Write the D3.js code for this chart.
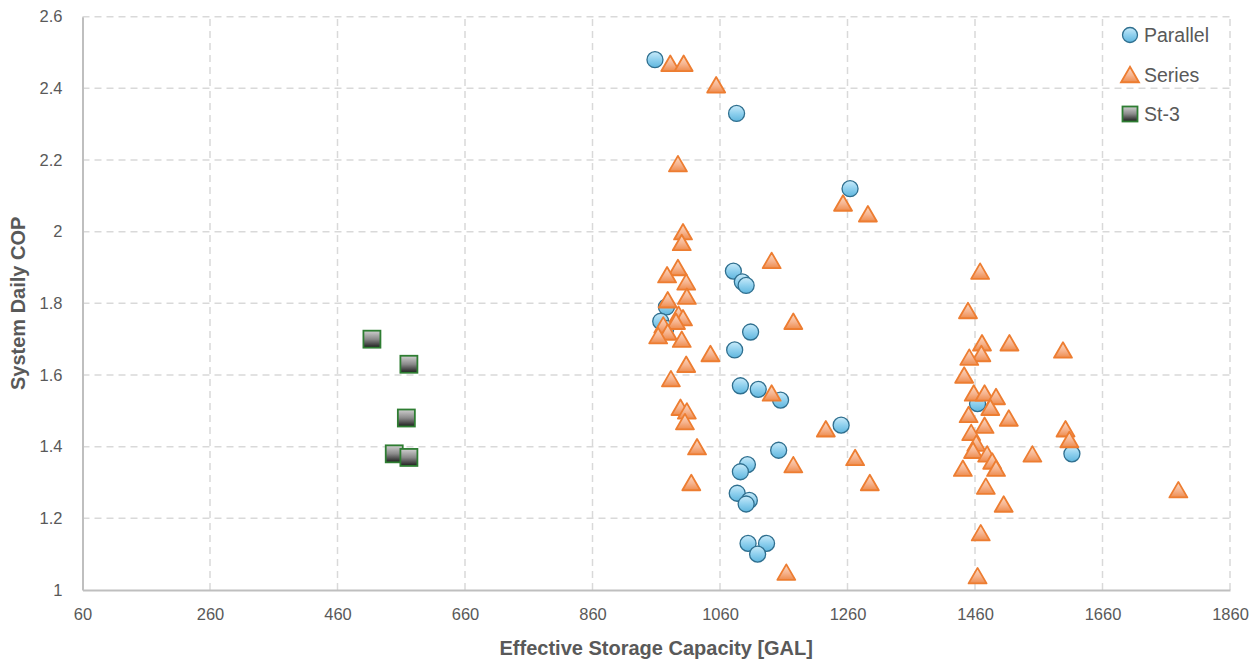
<!DOCTYPE html>
<html>
<head>
<meta charset="utf-8">
<script src="https://cdn.jsdelivr.net/npm/d3@7"></script>
<style>
  body { margin: 0; background: #fff; }
  text { font-family: "Liberation Sans", Arial, sans-serif; }
</style>
</head>
<body>
<div id="chart"></div>
<script>
// tick labels
var xTicks = [60, 260, 460, 660, 860, 1060, 1260, 1460, 1660, 1860];
var yTicks = [1, 1.2, 1.4, 1.6, 1.8, 2, 2.2, 2.4, 2.6];

// Parallel  [capacity, COP]
var parallelX = [958, 1086, 1264, 1081, 1095, 1101, 976, 967, 975, 1108, 1083, 1092, 1120, 1155, 1464, 1250, 1152, 1612, 1103, 1092, 1087, 1106, 1101, 1104, 1133, 1119];
var parallelY = [2.48, 2.33, 2.12, 1.89, 1.86, 1.85, 1.79, 1.75, 1.73, 1.72, 1.67, 1.57, 1.56, 1.53, 1.52, 1.46, 1.39, 1.38, 1.35, 1.33, 1.27, 1.25, 1.24, 1.13, 1.13, 1.10];

// Series
var seriesX = [982, 1003, 1054, 994, 1002, 1000, 994, 977, 1007, 1008, 978, 995, 1002, 991, 971, 978, 963, 1000, 1045, 1007, 983, 998, 1008, 1005, 1024, 1015,
  1253, 1292, 1141, 1175, 1141, 1175, 1226, 1272, 1295, 1164,
  1468, 1449, 1471, 1514, 1598, 1470, 1451, 1443, 1458, 1475, 1493, 1484, 1450, 1513, 1475, 1454, 1462, 1457, 1479, 1487, 1493, 1441, 1550, 1477, 1505, 1469, 1464, 1602, 1608, 1779];
var seriesY = [2.47, 2.47, 2.41, 2.19, 2.00, 1.97, 1.90, 1.88, 1.86, 1.82, 1.81, 1.77, 1.76, 1.75, 1.74, 1.72, 1.71, 1.70, 1.66, 1.63, 1.59, 1.51, 1.50, 1.47, 1.40, 1.30,
  2.08, 2.05, 1.92, 1.75, 1.55, 1.35, 1.45, 1.37, 1.30, 1.05,
  1.89, 1.78, 1.69, 1.69, 1.67, 1.66, 1.65, 1.60, 1.55, 1.55, 1.54, 1.51, 1.49, 1.48, 1.46, 1.44, 1.41, 1.39, 1.38, 1.36, 1.34, 1.34, 1.38, 1.29, 1.24, 1.16, 1.04, 1.45, 1.42, 1.28];

// St-3
var st3X = [514, 572, 568, 549, 572];
var st3Y = [1.70, 1.63, 1.48, 1.38, 1.37];

var seriesNames = ["Parallel", "Series", "St-3"];

var width = 1252, height = 664;
var margin = { top: 16.7, right: 22, bottom: 74, left: 82.5 };

var svg = d3.select("#chart").append("svg")
  .attr("width", width).attr("height", height);

var defs = svg.append("defs");
function grad(id, stops) {
  var g = defs.append("linearGradient").attr("id", id)
    .attr("x1", 0).attr("y1", 0).attr("x2", 0).attr("y2", 1);
  stops.forEach(function(s) {
    g.append("stop").attr("offset", s[0]).attr("stop-color", s[1]);
  });
}
grad("gCircle", [[0, "#c9ebfa"], [0.5, "#8fd0ee"], [1, "#5fb6de"]]);
grad("gTri", [[0, "#fcdcc6"], [0.55, "#f6b48f"], [1, "#ee8c4e"]]);
grad("gSq", [[0, "#d0d0d0"], [0.5, "#8a8a8a"], [1, "#1c1c1c"]]);

var x = d3.scaleLinear().domain([60, 1860]).range([margin.left, width - margin.right]);
var y = d3.scaleLinear().domain([1, 2.6]).range([height - margin.bottom, margin.top]);

// gridlines
svg.append("g").selectAll("line").data(xTicks.slice(1)).enter().append("line")
  .attr("x1", function(d) { return x(d); }).attr("x2", function(d) { return x(d); })
  .attr("y1", y(1)).attr("y2", y(2.6))
  .attr("stroke", "#d9d9d9").attr("stroke-width", 1.5).attr("stroke-dasharray", "7,5");
svg.append("g").selectAll("line").data(yTicks.slice(1)).enter().append("line")
  .attr("x1", x(60)).attr("x2", x(1860))
  .attr("y1", function(d) { return y(d); }).attr("y2", function(d) { return y(d); })
  .attr("stroke", "#d9d9d9").attr("stroke-width", 1.5).attr("stroke-dasharray", "7,5");

// axes
var xAxis = d3.axisBottom(x).tickValues(xTicks).tickSize(0).tickPadding(18).tickFormat(d3.format("d"));
var yAxis = d3.axisLeft(y).tickValues(yTicks).tickSize(0).tickPadding(20).tickFormat(function(d) { return String(d); });

var gx = svg.append("g").attr("transform", "translate(0," + y(1) + ")").call(xAxis);
var gy = svg.append("g").attr("transform", "translate(" + x(60) + ",0)").call(yAxis);
[gx, gy].forEach(function(g) {
  g.select(".domain").attr("stroke", "#bfbfbf").attr("stroke-width", 2);
  g.selectAll("text").attr("fill", "#595959").style("font-size", "16.5px");
});

svg.append("text")
  .attr("x", (x(60) + x(1860)) / 2).attr("y", 655)
  .attr("text-anchor", "middle").attr("fill", "#595959")
  .style("font-size", "20px").style("font-weight", "bold")
  .text("Effective Storage Capacity [GAL]");

svg.append("text")
  .attr("transform", "translate(25," + y(1.8) + ") rotate(-90)")
  .attr("text-anchor", "middle").attr("fill", "#595959")
  .style("font-size", "20px").style("font-weight", "bold")
  .text("System Daily COP");

function zip(xs, ys) { return xs.map(function(v, i) { return [v, ys[i]]; }); }

function triPath(cx, cy) {
  var w = 18, h = 15.5;
  return "M" + cx + "," + (cy - h / 2) + "L" + (cx + w / 2) + "," + (cy + h / 2) + "L" + (cx - w / 2) + "," + (cy + h / 2) + "Z";
}

// Parallel
svg.append("g").selectAll("circle").data(zip(parallelX, parallelY)).enter().append("circle")
  .attr("cx", function(d) { return x(d[0]); }).attr("cy", function(d) { return y(d[1]); })
  .attr("r", 8).attr("fill", "url(#gCircle)").attr("stroke", "#2f6f8f").attr("stroke-width", 1.3);

// Series
svg.append("g").selectAll("path").data(zip(seriesX, seriesY)).enter().append("path")
  .attr("d", function(d) { return triPath(x(d[0]), y(d[1])); })
  .attr("fill", "url(#gTri)").attr("stroke", "#ed7d31").attr("stroke-width", 1.8).attr("stroke-linejoin", "round");

// St-3
svg.append("g").selectAll("rect").data(zip(st3X, st3Y)).enter().append("rect")
  .attr("x", function(d) { return x(d[0]) - 8.5; }).attr("y", function(d) { return y(d[1]) - 8.5; })
  .attr("width", 17).attr("height", 17)
  .attr("fill", "url(#gSq)").attr("stroke", "#2e7d32").attr("stroke-width", 1.8);

// legend
var leg = svg.append("g").attr("transform", "translate(1130,35)");
seriesNames.forEach(function(name, i) {
  var g = leg.append("g").attr("transform", "translate(0," + (i * 39.5) + ")");
  if (i === 0) {
    g.append("circle").attr("r", 7.5).attr("fill", "url(#gCircle)").attr("stroke", "#2f6f8f").attr("stroke-width", 1.3);
  } else if (i === 1) {
    g.append("path").attr("d", triPath(0, 0)).attr("fill", "url(#gTri)").attr("stroke", "#ed7d31").attr("stroke-width", 1.8);
  } else {
    g.append("rect").attr("x", -7.5).attr("y", -7.5).attr("width", 15).attr("height", 15)
      .attr("fill", "url(#gSq)").attr("stroke", "#2e7d32").attr("stroke-width", 1.8);
  }
  g.append("text").attr("x", 14).attr("y", 7).attr("fill", "#595959")
    .style("font-size", "19.5px").text(name);
});
</script>
</body>
</html>
